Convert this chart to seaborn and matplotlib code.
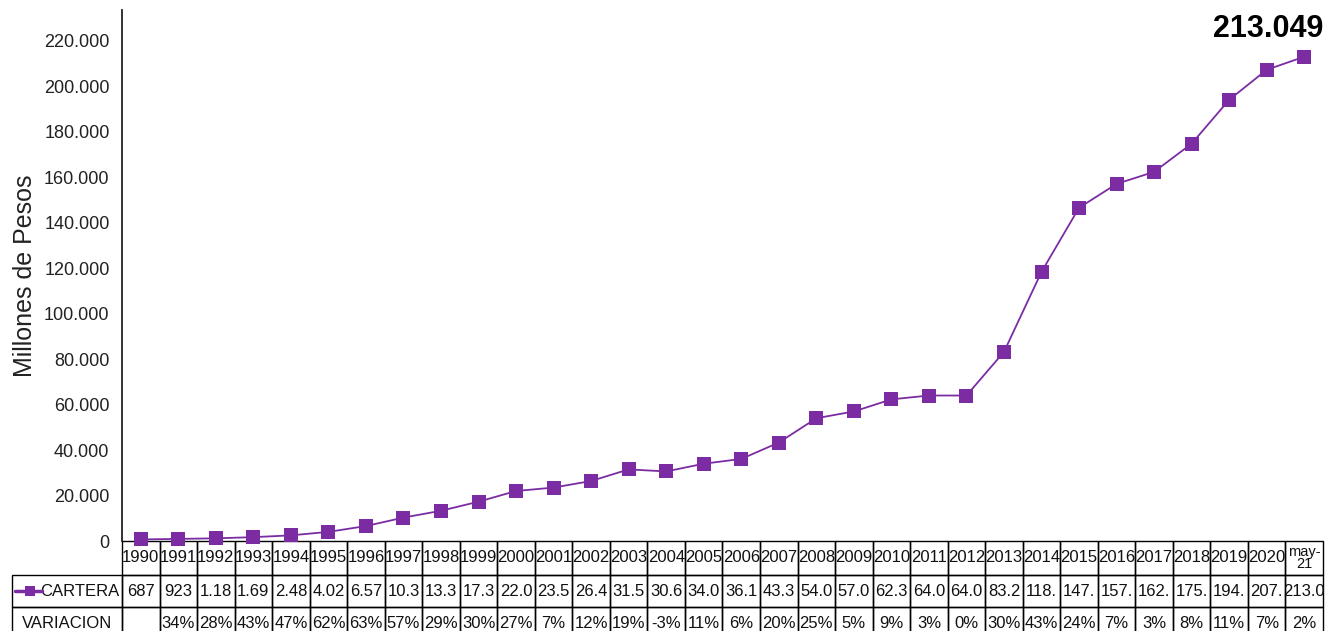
import matplotlib
matplotlib.use("Agg")
import matplotlib.pyplot as plt
import seaborn as sns
import pandas as pd
from matplotlib.table import Table

# Data
years = ["1990", "1991", "1992", "1993", "1994", "1995", "1996", "1997", "1998",
         "1999", "2000", "2001", "2002", "2003", "2004", "2005", "2006", "2007",
         "2008", "2009", "2010", "2011", "2012", "2013", "2014", "2015", "2016",
         "2017", "2018", "2019", "2020", "may-\n21"]
cartera = [687, 923, 1180, 1690, 2480, 4020, 6570, 10300, 13300, 17300, 22000,
           23500, 26400, 31500, 30600, 34000, 36100, 43300, 54000, 57000, 62300,
           64000, 64000, 83200, 118400, 146600, 157100, 162400, 174800, 194100,
           207300, 213049]
cartera_labels = ["687", "923", "1.18", "1.69", "2.48", "4.02", "6.57", "10.3",
                  "13.3", "17.3", "22.0", "23.5", "26.4", "31.5", "30.6", "34.0",
                  "36.1", "43.3", "54.0", "57.0", "62.3", "64.0", "64.0", "83.2",
                  "118.", "147.", "157.", "162.", "175.", "194.", "207.", "213.0"]
variacion = ["", "34%", "28%", "43%", "47%", "62%", "63%", "57%", "29%", "30%",
             "27%", "7%", "12%", "19%", "-3%", "11%", "6%", "20%", "25%", "5%",
             "9%", "3%", "0%", "30%", "43%", "24%", "7%", "3%", "8%", "11%",
             "7%", "2%"]
row_labels = ["CARTERA", "VARIACION"]
last_label = "213.049"

purple = "#7b2ca3"

sns.set_theme(style="white")
plt.rcParams["font.family"] = ["Liberation Sans", "DejaVu Sans"]

df = pd.DataFrame({"pos": range(len(years)), "cartera": cartera})

fig = plt.figure(figsize=(13.42, 6.31), dpi=100)
ax = fig.add_axes([122 / 1342, 1 - 541 / 631, 1201 / 1342, 531 / 631])

sns.lineplot(data=df, x="pos", y="cartera", ax=ax, color=purple, linewidth=1.3,
             marker="s", markersize=9.5, markeredgewidth=0, clip_on=False)

ax.set_xlim(-0.5, len(years) - 0.5)
ax.set_ylim(0, 233600)
ax.set_yticks(range(0, 220001, 20000))
ax.set_yticklabels(["0"] + [f"{v // 1000}.000" for v in range(20000, 220001, 20000)],
                   fontsize=13, color="#222222")
ax.set_xticks([])
ax.set_xlabel("")
ax.set_ylabel("Millones de Pesos", fontsize=18, color="#222222", labelpad=5)
ax.tick_params(axis="y", length=0, pad=9)
for side in ["top", "right", "bottom"]:
    ax.spines[side].set_visible(False)
ax.spines["left"].set_color("#222222")
ax.spines["left"].set_linewidth(1.3)

ax.text(1.0, 225300, last_label, transform=ax.get_yaxis_transform(),
        ha="right", va="center", fontsize=22, fontweight="bold", color="black")

# data table under the axis
label_w = 110
col_w = 1201 / len(years)
heights = [34, 32, 32]
total_w = label_w + col_w * len(years)
total_h = sum(heights)
tbl = Table(ax, bbox=[-label_w / 1201, -total_h / 531, total_w / 1201, total_h / 531])
for j, y in enumerate(years):
    tbl.add_cell(0, j + 1, width=col_w, height=heights[0], text=y, loc="center",
                 facecolor="none", edgecolor="black")
    tbl.add_cell(1, j + 1, width=col_w, height=heights[1], text=cartera_labels[j],
                 loc="center", facecolor="none", edgecolor="black")
    tbl.add_cell(2, j + 1, width=col_w, height=heights[2], text=variacion[j],
                 loc="center", facecolor="none", edgecolor="black")
tbl.add_cell(1, 0, width=label_w, height=heights[1], text=row_labels[0], loc="right",
             facecolor="none", edgecolor="black")
tbl.add_cell(2, 0, width=label_w, height=heights[2], text=row_labels[1], loc="center",
             facecolor="none", edgecolor="black")
tbl.add_cell(0, 0, width=label_w, height=heights[0], text="", facecolor="none",
             edgecolor="none")
tbl.auto_set_font_size(False)
tbl.set_fontsize(12)
for (r, c), cell in tbl.get_celld().items():
    cell.set_linewidth(1.0)
    cell.get_text().set_color("#111111")
    cell.PAD = 0.02
    if r == 0 and c == len(years):
        cell.get_text().set_linespacing(0.8)
        cell.get_text().set_fontsize(10.5)
ax.add_table(tbl)

# legend glyph in the CARTERA row label
ax.plot([-107 / 1201, -80 / 1201], [-50 / 531, -50 / 531], transform=ax.transAxes,
        color=purple, linewidth=2.5, clip_on=False)
ax.plot([-92 / 1201], [-50 / 531], transform=ax.transAxes, color=purple,
        marker="s", markersize=7.5, markeredgewidth=0, clip_on=False)

fig.savefig("out.png", dpi=100, facecolor="white")
